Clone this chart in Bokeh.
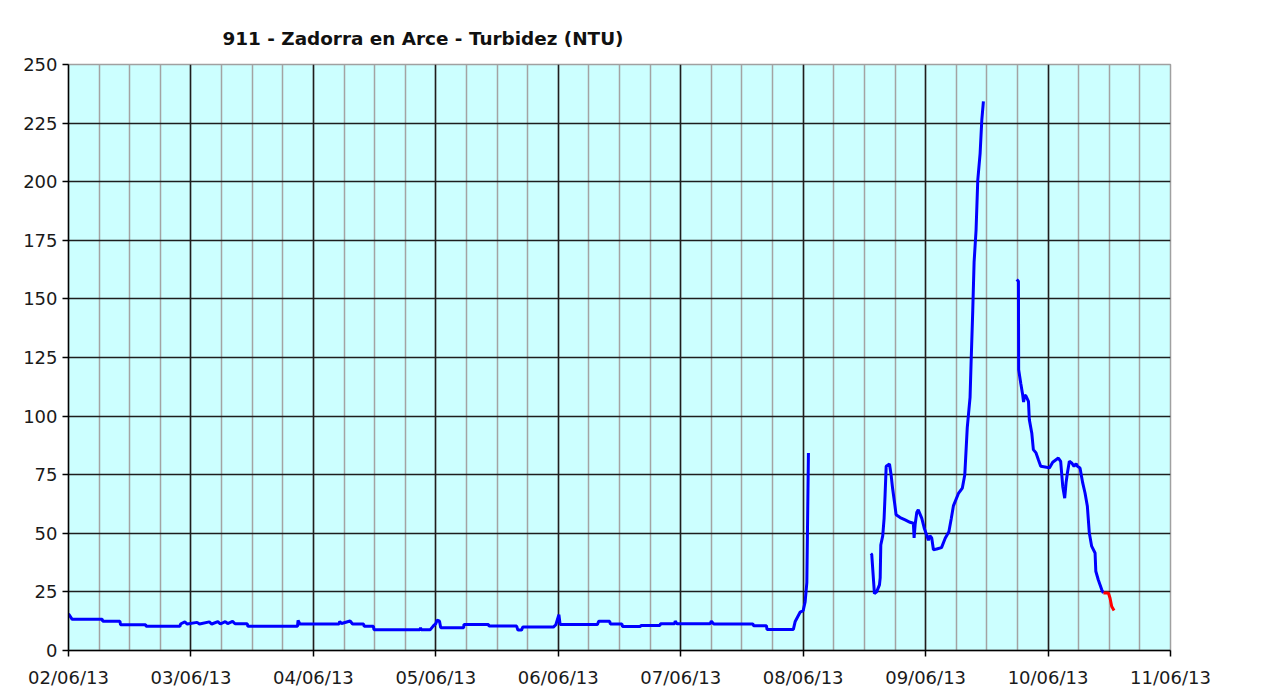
import math
from bokeh.plotting import figure
from bokeh.models import FixedTicker, Range1d, ColumnDataSource
from bokeh.embed import file_html
from bokeh.resources import INLINE

# ---- data (time in days since 02/06/13 00:00, turbidity in NTU) ----
tick_labels = ["02/06/13", "03/06/13", "04/06/13", "05/06/13", "06/06/13",
               "07/06/13", "08/06/13", "09/06/13", "10/06/13", "11/06/13"]
y_ticks = [0, 25, 50, 75, 100, 125, 150, 175, 200, 225, 250]

nan = float("nan")
blue_days = [
    0.0, 0.03, 0.275, 0.28, 0.42, 0.425, 0.63, 0.635, 0.91, 0.915, 0.95, 0.97,
    1.05, 1.07, 1.15, 1.17, 1.22, 1.24, 1.28, 1.30, 1.34, 1.36, 1.46, 1.465,
    1.87, 1.875, 1.89, 2.21, 2.215, 2.23, 2.30, 2.32, 2.41, 2.415, 2.49, 2.495,
    2.87, 2.875, 2.88, 2.955, 2.98, 3.0, 3.01, 3.03, 3.04, 3.227, 3.23, 3.43,
    3.435, 3.66, 3.67, 3.70, 3.71, 3.96, 3.98, 4.005, 4.015, 4.32, 4.33, 4.42,
    4.425, 4.52, 4.525, 4.67, 4.675, 4.83, 4.835, 4.95, 4.955, 4.97, 5.24, 5.25,
    5.27, 5.59, 5.595, 5.70, 5.705, 5.92, 5.935, 5.976, 6.0, 6.016, 6.03, 6.043,
    6.3,
    6.553, 6.56, 6.582, 6.60, 6.623, 6.629, 6.634, 6.65, 6.661, 6.669, 6.678,
    6.705, 6.718, 6.73, 6.745, 6.759, 6.792, 6.833, 6.873, 6.90, 6.906, 6.915,
    6.928, 6.94, 6.969, 6.99, 7.01, 7.023, 7.035, 7.05, 7.064, 7.09, 7.13, 7.16,
    7.19, 7.21, 7.227, 7.268, 7.30, 7.32, 7.34, 7.363, 7.371, 7.385, 7.396,
    7.412, 7.426, 7.445, 7.459, 7.472,
    7.6,
    7.744, 7.758, 7.76, 7.777, 7.793, 7.80, 7.81, 7.82, 7.84, 7.847, 7.867,
    7.88, 7.902, 7.921, 7.94, 7.976, 8.011, 8.038, 8.084, 8.103, 8.12, 8.136,
    8.147, 8.158, 8.174, 8.193, 8.212, 8.229, 8.24, 8.261, 8.283, 8.302, 8.321,
    8.337, 8.356, 8.384, 8.39, 8.41, 8.438, 8.452,
]
blue_ntu = [
    15.7, 13.3, 13.3, 12.5, 12.5, 11.0, 11.0, 10.3, 10.3, 11.3, 12.2, 11.3,
    12.0, 11.3, 12.2, 11.3, 12.3, 11.3, 12.3, 11.5, 12.4, 11.4, 11.4, 10.3,
    10.3, 12.8, 11.3, 11.3, 12.4, 11.5, 12.6, 11.3, 11.3, 10.3, 10.3, 8.9,
    8.9, 9.7, 8.9, 8.9, 10.5, 11.5, 13.0, 12.5, 9.7, 9.7, 11.1, 11.1,
    10.4, 10.4, 8.7, 8.7, 10.0, 10.0, 11.0, 15.3, 11.1, 11.1, 12.5, 12.5,
    11.3, 11.3, 10.2, 10.2, 10.7, 10.7, 11.4, 11.4, 12.5, 11.4, 11.4, 12.5,
    11.3, 11.3, 10.6, 10.6, 9.0, 9.0, 12.4, 16.4, 17.0, 20.7, 29.0, 84.3,
    nan,
    41.4, 41.0, 24.3, 25.0, 28.0, 31.0, 45.0, 49.0, 56.4, 66.4, 78.6,
    79.6, 75.0, 69.3, 63.6, 57.9, 56.7, 55.7, 54.7, 54.3, 48.0, 54.0,
    59.0, 60.0, 56.4, 52.0, 49.0, 47.0, 49.0, 48.0, 43.0, 43.3, 43.9, 47.9,
    50.7, 56.4, 61.7, 67.0, 69.3, 75.0, 95.0, 108.0, 122.0, 145.0, 165.7,
    179.3, 200.7, 212.0, 226.4, 234.3,
    nan,
    158.3, 157.5, 119.8, 114.0, 109.0, 106.0, 109.0, 108.5, 106.3, 98.5, 92.8,
    85.7, 84.3, 81.4, 78.6, 78.3, 77.9, 80.3, 82.1, 80.7, 70.0, 65.0,
    71.5, 75.7, 80.7, 80.0, 78.6, 79.7, 78.6, 77.9, 71.5, 67.2, 61.5,
    50.1, 44.5, 41.6, 33.8, 30.2, 26.0, 24.5,
]
red_days = [8.452, 8.493, 8.506, 8.52, 8.539]
red_ntu = [24.5, 24.5, 22.4, 18.8, 17.1]

# ---- figure ----
p = figure(width=1240, height=690, output_backend="svg", toolbar_location=None,
           x_range=Range1d(0, len(tick_labels) - 1), y_range=Range1d(0, 250),
           min_border_left=68, min_border_right=70, min_border_top=64,
           min_border_bottom=38)

p.title.text = "911 - Zadorra en Arce - Turbidez (NTU)"
p.title.text_font = "DejaVu Sans"
p.title.text_font_size = "18.4px"
p.title.text_font_style = "bold"
p.title.text_color = "#111111"
p.title.align = "left"
p.title.offset = 154
p.title.standoff = 32

p.background_fill_color = "#ccffff"
p.border_fill_color = "#ffffff"
p.outline_line_color = "#a0a0a0"
p.outline_line_width = 1.5

day_ticks = list(range(len(tick_labels)))
minor = [d / 4 for d in range(0, 4 * (len(tick_labels) - 1) + 1)]
xt = FixedTicker(ticks=day_ticks, minor_ticks=minor)
p.xaxis.ticker = xt
p.xgrid.ticker = xt
p.xaxis.major_label_overrides = {i: lab for i, lab in enumerate(tick_labels)}
p.yaxis.ticker = FixedTicker(ticks=y_ticks, minor_ticks=[])
p.ygrid.ticker = FixedTicker(ticks=y_ticks, minor_ticks=[])

for g in (p.xgrid, p.ygrid):
    g.grid_line_color = "#1e1e1e"
    g.grid_line_width = 1.5
p.xgrid.minor_grid_line_color = "#a3a3a3"
p.xgrid.minor_grid_line_width = 1.5

for ax in (p.xaxis, p.yaxis):
    ax.axis_line_color = "#000000"
    ax.axis_line_width = 1.5
    ax.major_tick_line_color = "#000000"
    ax.major_tick_line_width = 1.5
    ax.major_tick_in = 0
    ax.major_tick_out = 6
    ax.minor_tick_line_color = None
    ax.major_label_text_font = "DejaVu Sans"
    ax.major_label_text_font_size = "18px"
    ax.major_label_text_color = "#1a1a1a"
p.xaxis.major_label_standoff = 10
p.yaxis.major_label_standoff = 5

src_b = ColumnDataSource(data=dict(x=blue_days, y=blue_ntu))
src_r = ColumnDataSource(data=dict(x=red_days, y=red_ntu))
p.line("x", "y", source=src_b, line_color="#0000ff", line_width=3)
p.line("x", "y", source=src_r, line_color="#ff0000", line_width=3)

open("out.html", "w").write(file_html(p, INLINE))
